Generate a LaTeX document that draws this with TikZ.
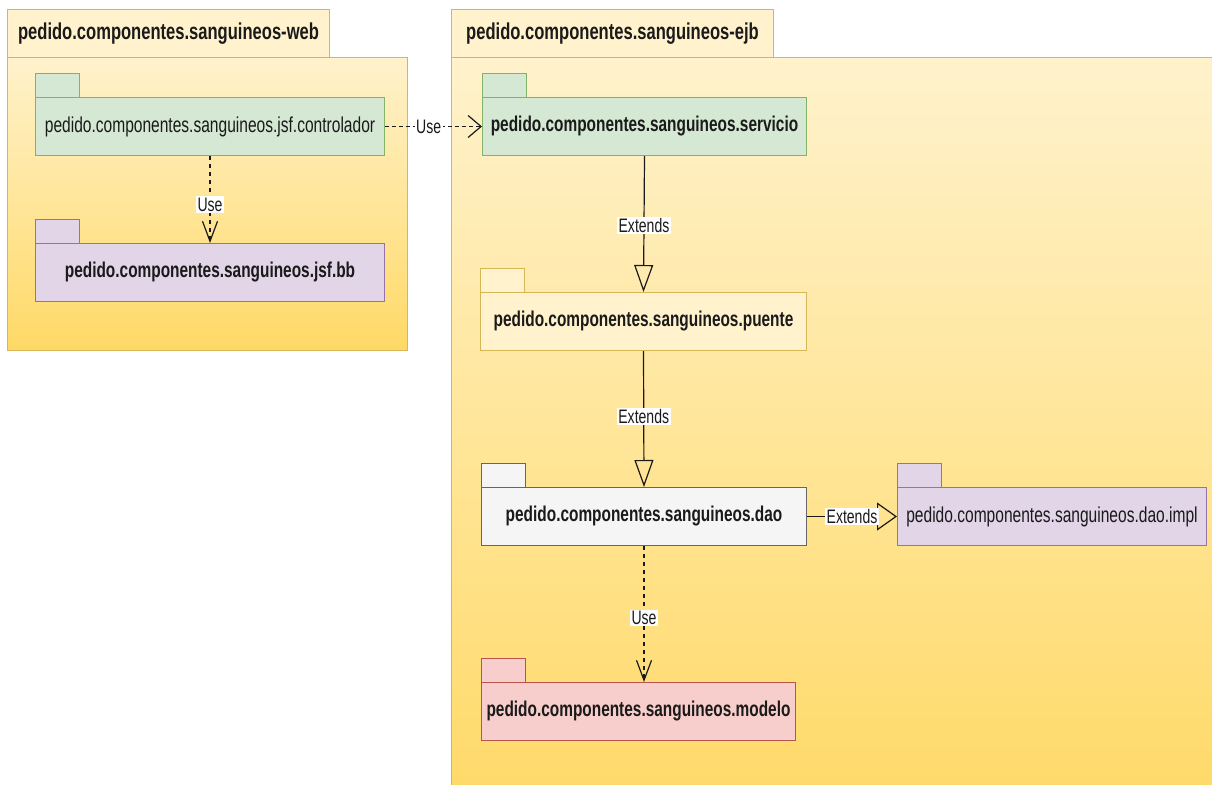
\documentclass[tikz,border=0pt]{standalone}
\usepackage{fontspec}
\setmainfont{Liberation Sans}[FakeStretch=0.72]
\usetikzlibrary{arrows.meta}
\definecolor{ylwF}{HTML}{FFF2CC}
\definecolor{ylwG}{HTML}{FFD966}
\definecolor{ylwS}{HTML}{D6B656}
\definecolor{grnF}{HTML}{D5E8D4}
\definecolor{grnS}{HTML}{82B366}
\definecolor{prpF}{HTML}{E1D5E7}
\definecolor{prpS}{HTML}{9673A6}
\definecolor{gryF}{HTML}{F5F5F5}
\definecolor{gryS}{HTML}{666666}
\definecolor{redF}{HTML}{F8CECC}
\definecolor{redS}{HTML}{B85450}
\definecolor{ink}{HTML}{1A1A1A}
\tikzset{
  box/.style={draw, line width=1pt, anchor=north west, inner sep=0pt, text=ink, align=center},
  cont/.style={box, draw=ylwS, top color=ylwF, bottom color=ylwG},
  conttab/.style={box, draw=ylwS, fill=ylwF, font=\fontsize{23}{26}\selectfont\bfseries},
  fb/.style={font=\fontsize{21.4}{24}\selectfont\bfseries},
  fr/.style={font=\fontsize{21.6}{25}\selectfont},
  green/.style={box, draw=grnS, fill=grnF},
  purple/.style={box, draw=prpS, fill=prpF},
  yellow/.style={box, draw=ylwS, fill=ylwF},
  grey/.style={box, draw=gryS, fill=gryF},
  red/.style={box, draw=redS, fill=redF},
  lbl/.style={fill=white, inner sep=1.5pt, text=ink, font=\fontsize{19.5}{21}\selectfont},
  usev/.style={draw=ink, line width=1.2pt, dash pattern=on 4pt off 4pt, -{Straight Barb[length=20pt, width=15pt]}},
  useh/.style={draw=ink, line width=1.2pt, dash pattern=on 4pt off 3pt, -{Straight Barb[length=13pt, width=22pt]}},
  extv/.style={draw=ink, line width=1.2pt, -{Triangle[open, length=27pt, width=19pt]}},
  exth/.style={draw=ink, line width=1.2pt, -{Triangle[open, length=20pt, width=28pt]}},
}
\newcommand{\pkgtab}[2]{\draw[#2] (#1.north west) rectangle ++(44,-24);}
\begin{document}
\begin{tikzpicture}[x=1pt, y=-1pt]
\useasboundingbox (0,0) rectangle (1212,784);
\clip (0,0) rectangle (1212,784);
% containers
\node[cont, minimum width=400, minimum height=293] (web) at (7,57) {};
\node[conttab, minimum width=322, minimum height=48] (webtab) at (7,9) {pedido.componentes.sanguineos-web};
\node[cont, minimum width=800, minimum height=760] (ejb) at (451,57) {};
\node[conttab, minimum width=322, minimum height=48] (ejbtab) at (451,9) {pedido.componentes.sanguineos-ejb};
% packages
\node[green, fr, minimum width=349, minimum height=58] (ctrl) at (35,97) {pedido.componentes.sanguineos.jsf.controlador};
\pkgtab{ctrl}{green}
\node[purple, fb, minimum width=349, minimum height=58] (bb) at (35,243) {pedido.componentes.sanguineos.jsf.bb};
\pkgtab{bb}{purple}
\node[green, fb, minimum width=324, minimum height=58] (serv) at (482,97) {pedido.componentes.sanguineos.servicio};
\pkgtab{serv}{green}
\node[yellow, fb, minimum width=326, minimum height=58] (puente) at (480,292) {pedido.componentes.sanguineos.puente};
\pkgtab{puente}{yellow}
\node[grey, fb, minimum width=325, minimum height=58] (dao) at (481,487) {pedido.componentes.sanguineos.dao};
\pkgtab{dao}{grey}
\node[purple, fr, minimum width=309, minimum height=58] (impl) at (897,487) {pedido.componentes.sanguineos.dao.impl};
\pkgtab{impl}{purple}
\node[red, fb, minimum width=314, minimum height=58] (modelo) at (481,682) {pedido.componentes.sanguineos.modelo};
\pkgtab{modelo}{red}
% connectors
\draw[usev] (ctrl.south) -- node[lbl, pos=0.56] {Use} (bb.north);
\draw[useh] (ctrl.east) -- node[lbl, pos=0.45] {Use} (serv.west);
\draw[extv] (serv.south) -- node[lbl, pos=0.51] {Extends} (puente.north);
\draw[extv] (puente.south) -- node[lbl, pos=0.48] {Extends} (dao.north);
\draw[exth] (dao.east) -- node[lbl, pos=0.5] {Extends} (impl.west);
\draw[usev] (dao.south) -- node[lbl, pos=0.53] {Use} (dao.south |- modelo.north);
\end{tikzpicture}
\end{document}
